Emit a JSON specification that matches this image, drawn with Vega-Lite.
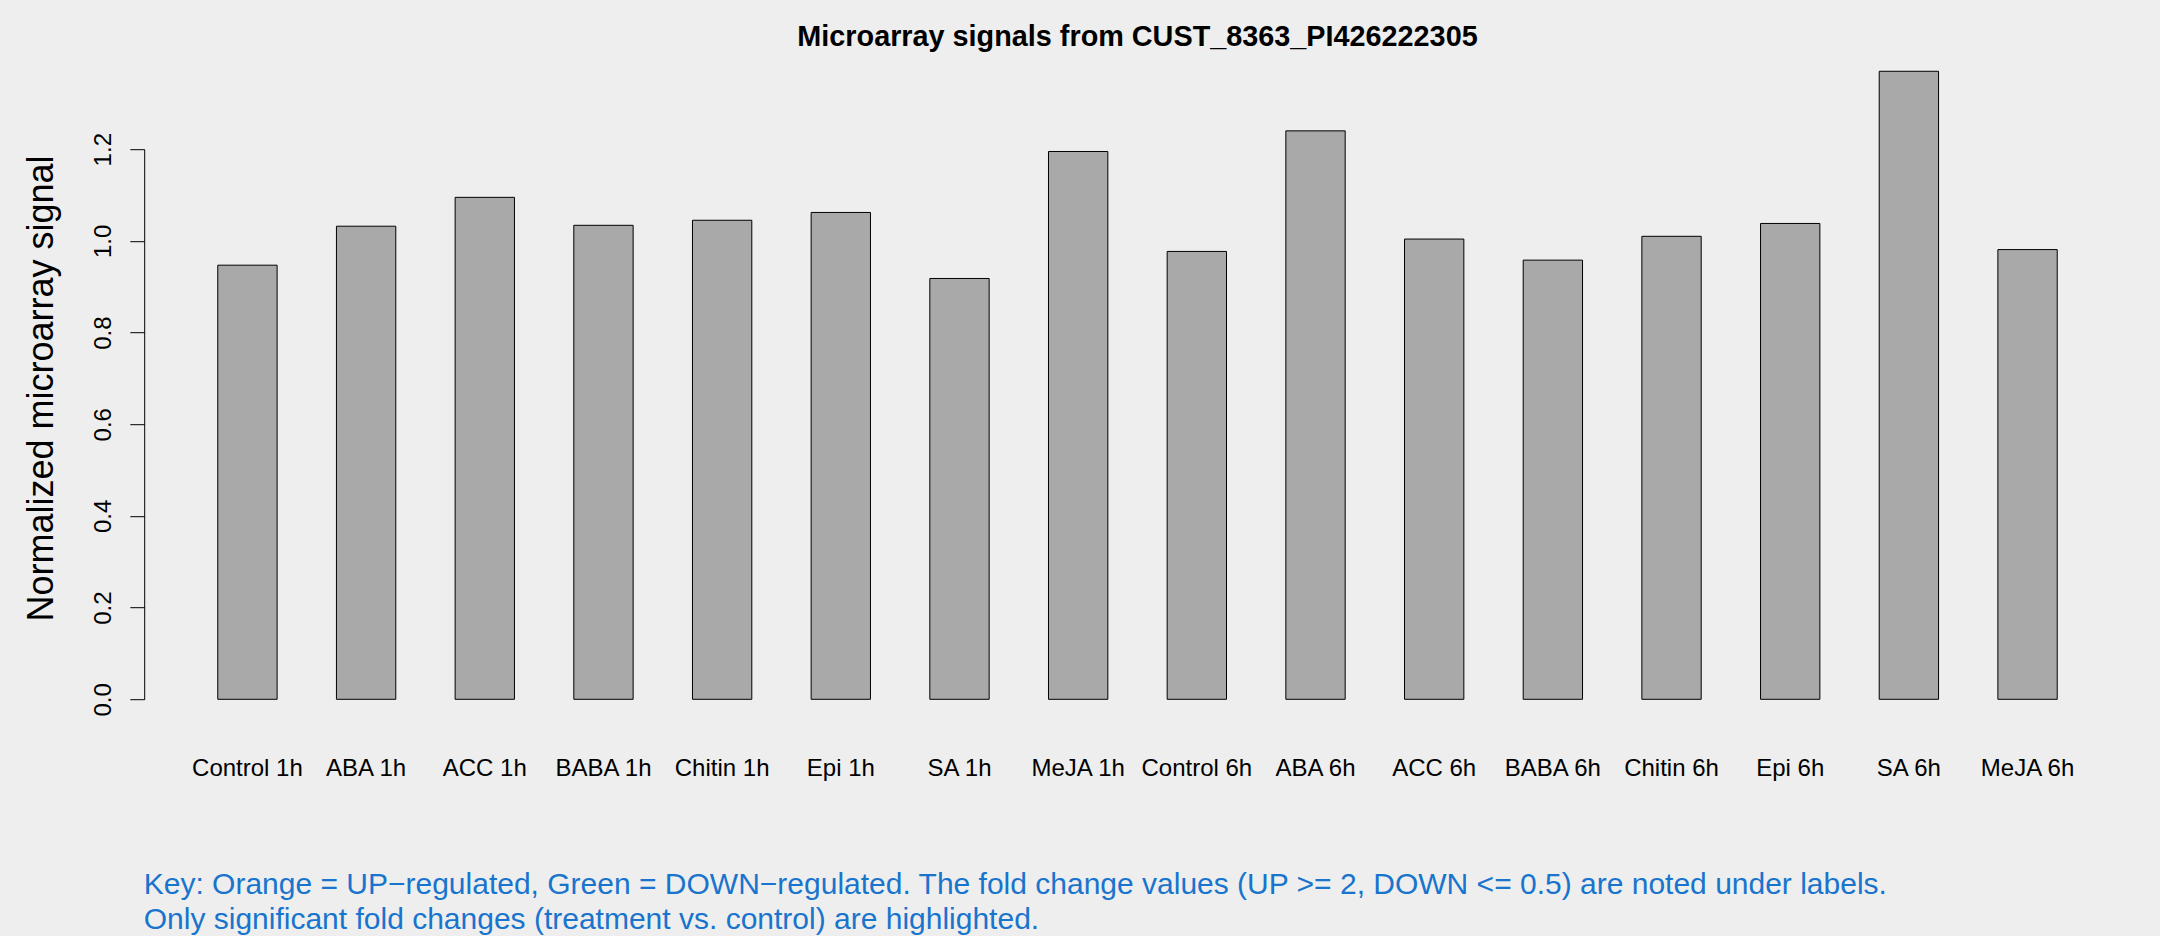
{
  "$schema": "https://vega.github.io/schema/vega-lite/v6.json",
  "width": 1986.6,
  "height": 550.1,
  "autosize": {"type": "none"},
  "padding": {"left": 144.2, "top": 149.2, "right": 29.2, "bottom": 236.7},
  "background": "#EEEEEE",
  "title": {
    "text": "Microarray signals from CUST_8363_PI426222305",
    "frame": "group",
    "anchor": "middle",
    "font": "Liberation Sans",
    "fontSize": 28.8,
    "fontWeight": "bold",
    "color": "#000000",
    "offset": 19
  },
  "data": {
    "values": [
      {"condition": "Control 1h", "signal": 0.947},
      {"condition": "ABA 1h", "signal": 1.032},
      {"condition": "ACC 1h", "signal": 1.095},
      {"condition": "BABA 1h", "signal": 1.034},
      {"condition": "Chitin 1h", "signal": 1.045},
      {"condition": "Epi 1h", "signal": 1.062},
      {"condition": "SA 1h", "signal": 0.918},
      {"condition": "MeJA 1h", "signal": 1.195},
      {"condition": "Control 6h", "signal": 0.977},
      {"condition": "ABA 6h", "signal": 1.240},
      {"condition": "ACC 6h", "signal": 1.004},
      {"condition": "BABA 6h", "signal": 0.958},
      {"condition": "Chitin 6h", "signal": 1.010},
      {"condition": "Epi 6h", "signal": 1.038},
      {"condition": "SA 6h", "signal": 1.370},
      {"condition": "MeJA 6h", "signal": 0.981}
    ]
  },
  "mark": {"type": "bar", "fill": "#A9A9A9", "stroke": "#000000", "strokeWidth": 1},
  "encoding": {
    "x": {
      "field": "condition",
      "type": "nominal",
      "sort": null,
      "scale": {"paddingInner": 0.5, "paddingOuter": 0.62},
      "axis": {
        "title": [
          "Key: Orange = UP−regulated, Green = DOWN−regulated. The fold change values (UP >= 2, DOWN <= 0.5) are noted under labels.",
          "Only significant fold changes (treatment vs. control) are highlighted."
        ],
        "titleAnchor": "start",
        "titleAlign": "left",
        "titleBaseline": "alphabetic",
        "titleX": -1,
        "titleY": 194,
        "titleFont": "Liberation Sans",
        "titleFontSize": 30,
        "titleFontWeight": "normal",
        "titleColor": "#1874CD",
        "titleLineHeight": 35.5,
        "labelAngle": 0,
        "labelFont": "Liberation Sans",
        "labelFontSize": 24,
        "labelColor": "#000000",
        "labelPadding": 76.4,
        "labelBaseline": "alphabetic",
        "labelAlign": "center",
        "ticks": false,
        "tickSize": 0,
        "domain": false,
        "grid": false,
        "labelOverlap": false,
        "labelFlush": false,
        "labelLimit": 0
      }
    },
    "y": {
      "field": "signal",
      "type": "quantitative",
      "scale": {"domain": [0, 1.2], "nice": false, "zero": true},
      "axis": {
        "title": "Normalized microarray signal",
        "values": [0, 0.2, 0.4, 0.6, 0.8, 1.0, 1.2],
        "format": ".1f",
        "labelAngle": -90,
        "labelAlign": "center",
        "labelBaseline": "alphabetic",
        "labelFont": "Liberation Sans",
        "labelFontSize": 24,
        "labelColor": "#000000",
        "labelPadding": 19.6,
        "tickSize": 14.4,
        "tickColor": "#000000",
        "tickWidth": 1,
        "domainColor": "#000000",
        "domainWidth": 1,
        "grid": false,
        "labelOverlap": false,
        "labelFlush": false,
        "titleFont": "Liberation Sans",
        "titleFontSize": 36,
        "titleFontWeight": "normal",
        "titleColor": "#000000",
        "titleAngle": -90,
        "titleAlign": "center",
        "titleBaseline": "alphabetic",
        "titleX": -91.4,
        "titleY": 238.8
      }
    }
  },
  "config": {"view": {"stroke": null}}
}
